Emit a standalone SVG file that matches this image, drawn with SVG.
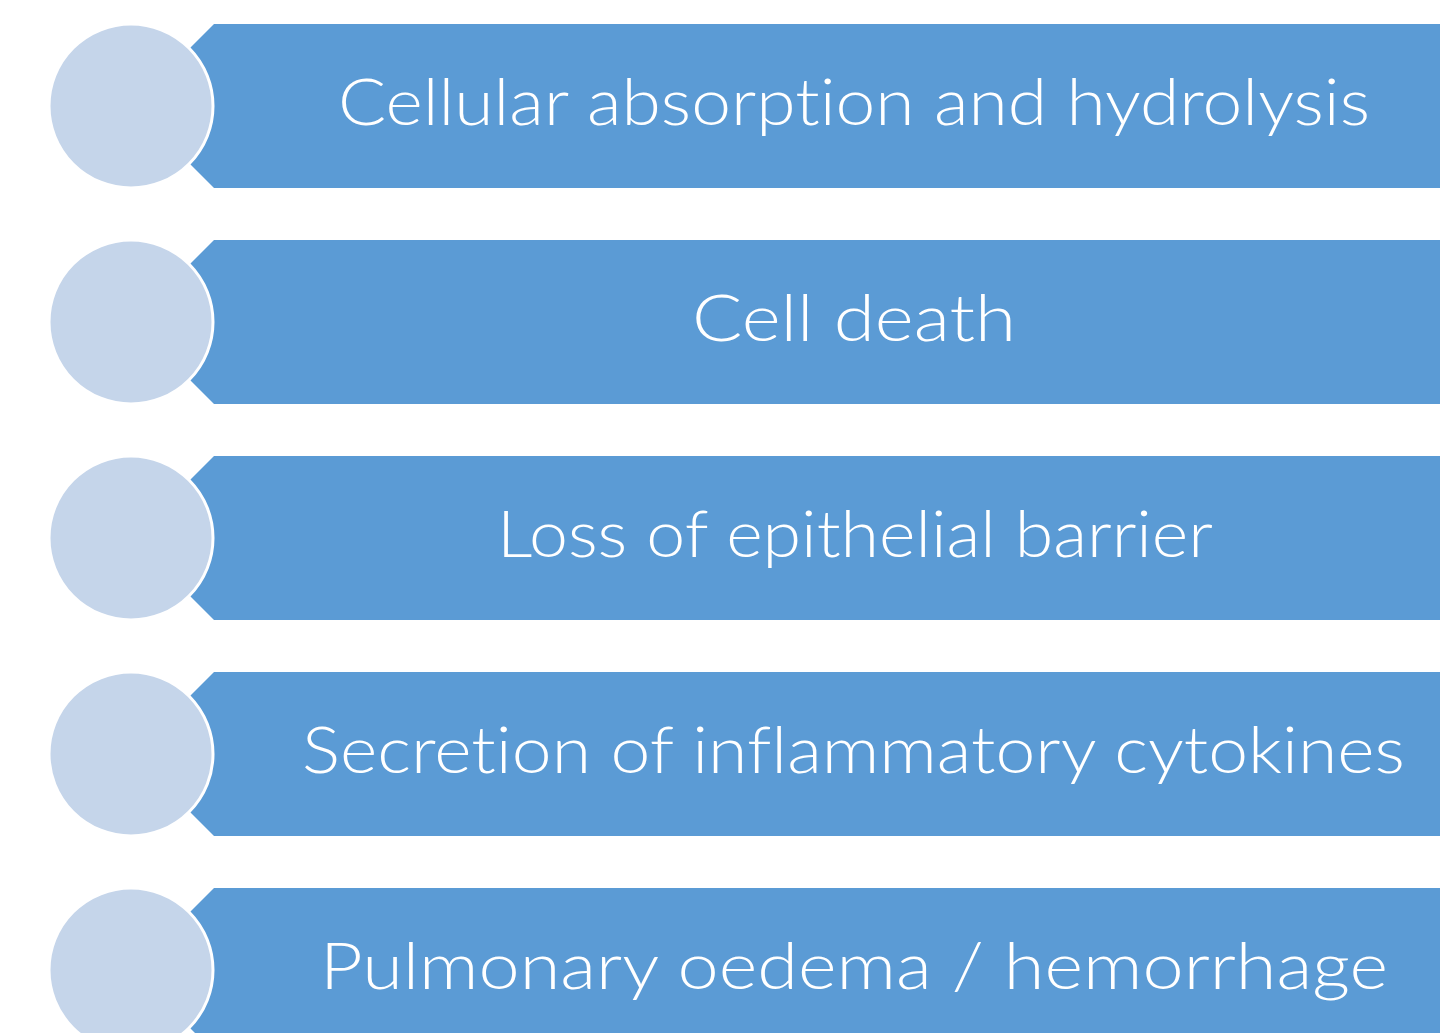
<svg xmlns="http://www.w3.org/2000/svg" width="1440" height="1033" viewBox="0 0 1440 1033">
  <defs>
    <style>
      .banner { fill: #5B9BD5; }
      .dot { fill: #C5D5EA; stroke: #FFFFFF; stroke-width: 3; }
      .label { fill: #FFFFFF; font-family: "Lato", "Liberation Sans", Arial, sans-serif; font-weight: 300; font-size: 66px; text-anchor: middle; font-variant-ligatures: none; font-feature-settings: "liga" 0, "dlig" 0; }
    </style>
    <path id="bannerShape" d="M190,48 L214,24 L1440,24 L1440,188 L214,188 L190,164 Z"/>
  </defs>
  <rect x="0" y="0" width="1440" height="1033" fill="#FFFFFF"/>
  <g id="connectors"></g>
  <g id="node1">
    <use href="#bannerShape" class="banner"/>
    <circle class="dot" cx="131" cy="106" r="82"/>
    <text class="label" x="854" y="125" textLength="1032" lengthAdjust="spacingAndGlyphs">Cellular absorption and hydrolysis</text>
  </g>
  <g id="node2" transform="translate(0,216)">
    <use href="#bannerShape" class="banner"/>
    <circle class="dot" cx="131" cy="106" r="82"/>
    <text class="label" x="854" y="125" textLength="324" lengthAdjust="spacingAndGlyphs">Cell death</text>
  </g>
  <g id="node3" transform="translate(0,432)">
    <use href="#bannerShape" class="banner"/>
    <circle class="dot" cx="131" cy="106" r="82"/>
    <text class="label" x="855" y="125" textLength="716" lengthAdjust="spacingAndGlyphs">Loss of epithelial barrier</text>
  </g>
  <g id="node4" transform="translate(0,648)">
    <use href="#bannerShape" class="banner"/>
    <circle class="dot" cx="131" cy="106" r="82"/>
    <text class="label" x="853.5" y="125" textLength="1103" lengthAdjust="spacingAndGlyphs">Secretion of inflammatory cytokines</text>
  </g>
  <g id="node5" transform="translate(0,864)">
    <use href="#bannerShape" class="banner"/>
    <circle class="dot" cx="131" cy="106" r="82"/>
    <text class="label" x="854" y="125" textLength="1068" lengthAdjust="spacingAndGlyphs">Pulmonary oedema / hemorrhage</text>
  </g>
</svg>
